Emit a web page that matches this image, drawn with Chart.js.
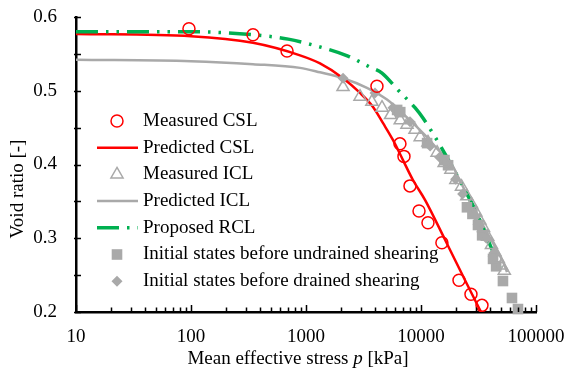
<!DOCTYPE html>
<html>
<head>
<meta charset="utf-8">
<script src="https://cdn.jsdelivr.net/npm/chart.js@4/dist/chart.umd.min.js"></script>
<style>
  html, body { margin: 0; padding: 0; background: #fff; }
  #wrap { width: 568px; height: 374px; }
</style>
</head>
<body>
<div id="wrap"><canvas id="chart"></canvas></div>
<script>
// Axis ticks
const xTicks = [10, 100, 1000, 10000, 100000];
const yTicks = [0.2, 0.3, 0.4, 0.5, 0.6];

// Measured CSL
const measCslP = [96, 346, 684, 4140, 6560, 7110, 8020, 9610, 11500, 15200, 21400, 27200, 33900];
const measCslE = [0.584, 0.576, 0.554, 0.506, 0.428, 0.411, 0.371, 0.337, 0.321, 0.294, 0.243, 0.224, 0.209];

// Predicted CSL
const predCslP = [10, 100, 346, 887, 1324, 2099, 2951, 3828, 4677, 5715, 6970, 8511, 10833, 16180, 24160, 33270];
const predCslE = [0.577, 0.574, 0.565, 0.548, 0.537, 0.517, 0.497, 0.478, 0.456, 0.433, 0.406, 0.379, 0.352, 0.298, 0.243, 0.200];

// Measured ICL
const measIclP = [2100, 2950, 3740, 4580, 5440, 6600, 7550, 8870, 9840, 11500, 13800, 15900, 18200, 20100,
  22500, 25000, 27500, 30000, 32500, 35000, 38000, 41000, 44000, 47000, 50000, 53000];
const measIclE = [0.505, 0.492, 0.485, 0.477, 0.467, 0.460, 0.454, 0.447, 0.437, 0.430, 0.416, 0.402, 0.393, 0.379,
  0.370, 0.357, 0.346, 0.335, 0.324, 0.314, 0.302, 0.291, 0.281, 0.272, 0.263, 0.256];

// Predicted ICL
const predIclP = [10, 100, 346, 887, 1324, 2099, 3388, 5058, 7551, 11270, 14060, 18200, 22300, 35300, 52700, 56000];
const predIclE = [0.542, 0.540, 0.536, 0.531, 0.525, 0.517, 0.504, 0.488, 0.464, 0.437, 0.420, 0.402, 0.375, 0.315, 0.265, 0.254];

// Proposed RCL
const rclP = [10, 100, 346, 700, 1150, 2317, 3607, 4580, 6310, 8870, 10400, 14900, 22300, 30700, 40600, 50600];
const rclE = [0.580, 0.580, 0.576, 0.570, 0.562, 0.547, 0.532, 0.524, 0.501, 0.477, 0.463, 0.424, 0.375, 0.333, 0.288, 0.254];

// Initial states before undrained shearing
const undrainedP = [6200, 6600, 11300, 16000, 17200, 25100, 28000, 31300, 34000, 42300, 45000, 51600, 61800, 69700];
const undrainedE = [0.474, 0.471, 0.429, 0.406, 0.399, 0.342, 0.333, 0.318, 0.304, 0.272, 0.262, 0.242, 0.219, 0.204];

// Initial states before drained shearing
const drainedP = [2100, 3980, 5700, 8020, 12000, 14500, 20000, 23000, 30000, 37000, 43000];
const drainedE = [0.517, 0.497, 0.477, 0.458, 0.425, 0.410, 0.380, 0.360, 0.330, 0.300, 0.280];

const RED = '#ff0000';
const GREY = '#a9a9a9';
const GREEN = '#00b050';
const RCL_DASH = [22, 8, 2.5, 8, 2.5, 8];

const pts = (xs, ys) => xs.map((x, i) => ({ x, y: ys[i] }));

Chart.defaults.font.family = '"Liberation Serif", "Times New Roman", serif';
Chart.defaults.color = '#000';

const datasets = [
  { label: 'Measured CSL', data: pts(measCslP, measCslE), showLine: false,
    pointStyle: 'circle', pointRadius: 6, pointBorderWidth: 1.5,
    pointBorderColor: RED, pointBackgroundColor: 'rgba(0,0,0,0)', order: 1, clip: false },
  { label: 'Predicted CSL', data: pts(predCslP, predCslE), showLine: true,
    borderColor: RED, borderWidth: 2.5, pointRadius: 0, cubicInterpolationMode: 'monotone', order: 6 },
  { label: 'Measured ICL', data: pts(measIclP, measIclE), showLine: false,
    pointStyle: 'triangle', pointRadius: 7, pointBorderWidth: 1.5,
    pointBorderColor: GREY, pointBackgroundColor: 'rgba(0,0,0,0)', order: 2, clip: false },
  { label: 'Predicted ICL', data: pts(predIclP, predIclE), showLine: true,
    borderColor: GREY, borderWidth: 2.5, pointRadius: 0, cubicInterpolationMode: 'monotone', order: 7 },
  { label: 'Proposed RCL', data: pts(rclP, rclE), showLine: true,
    borderColor: GREEN, borderWidth: 3.5, borderDash: RCL_DASH, pointRadius: 0,
    cubicInterpolationMode: 'monotone', order: 5 },
  { label: 'Initial states before undrained shearing', data: pts(undrainedP, undrainedE), showLine: false,
    pointStyle: 'rect', pointRadius: 7.5, pointBorderWidth: 0,
    pointBackgroundColor: GREY, pointBorderColor: GREY, order: 3, clip: false },
  { label: 'Initial states before drained shearing', data: pts(drainedP, drainedE), showLine: false,
    pointStyle: 'rectRot', pointRadius: 5.5, pointBorderWidth: 0,
    pointBackgroundColor: GREY, pointBorderColor: GREY, order: 4, clip: false }
];

// Legend, axis titles and inward tick marks
const decorations = {
  id: 'decorations',
  afterDraw(chart) {
    const ctx = chart.ctx;
    const xs = chart.scales.x, ys = chart.scales.y;
    const area = chart.chartArea;
    ctx.save();

    // tick marks
    ctx.strokeStyle = '#000';
    ctx.lineWidth = 1.5;
    ctx.beginPath();
    for (let d = 10; d < 100000; d *= 10) {
      for (let m = 1; m <= 10; m++) {
        const v = d * m;
        const px = Math.round(xs.getPixelForValue(v)) + 0.5;
        const len = (m === 1 || m === 10) ? 7 : 4.5;
        ctx.moveTo(px, area.bottom);
        ctx.lineTo(px, area.bottom - len);
      }
    }
    for (let v = 0.2; v <= 0.6001; v += 0.05) {
      const py = Math.round(ys.getPixelForValue(v)) + 0.5;
      ctx.moveTo(area.left - 2, py);
      ctx.lineTo(area.left + 5, py);
    }
    ctx.stroke();

    // axis titles
    ctx.fillStyle = '#000';
    ctx.font = '19px "Liberation Serif"';
    ctx.textBaseline = 'middle';
    const t1 = 'Mean effective stress ', t2 = 'p', t3 = ' [kPa]';
    const w1 = ctx.measureText(t1).width, w3 = ctx.measureText(t3).width;
    ctx.font = 'italic 19px "Liberation Serif"';
    const w2 = ctx.measureText(t2).width;
    let x0 = 298 - (w1 + w2 + w3) / 2;
    ctx.textAlign = 'left';
    ctx.font = '19px "Liberation Serif"';
    ctx.fillText(t1, x0, 359);
    ctx.font = 'italic 19px "Liberation Serif"';
    ctx.fillText(t2, x0 + w1, 359);
    ctx.font = '19px "Liberation Serif"';
    ctx.fillText(t3, x0 + w1 + w2, 359);

    ctx.save();
    ctx.translate(18, 189);
    ctx.rotate(-Math.PI / 2);
    ctx.textAlign = 'center';
    ctx.fillText('Void ratio [-]', 0, 0);
    ctx.restore();

    // legend
    const rowY = [121, 147.7, 174.4, 201, 227.8, 254.5, 281.2];
    const mx = 117;
    ctx.textAlign = 'left';
    ctx.font = '19px "Liberation Serif"';
    datasets.forEach((ds, i) => {
      const y = rowY[i];
      if (ds.showLine) {
        ctx.save();
        ctx.strokeStyle = ds.borderColor;
        ctx.lineWidth = ds.borderWidth;
        ctx.setLineDash(ds.borderDash || []);
        ctx.beginPath();
        ctx.moveTo(97, y);
        ctx.lineTo(138, y);
        ctx.stroke();
        ctx.restore();
      } else {
        ctx.save();
        ctx.lineWidth = ds.pointBorderWidth;
        ctx.strokeStyle = ds.pointBorderColor;
        ctx.fillStyle = ds.pointBackgroundColor;
        const r = ds.pointRadius;
        ctx.beginPath();
        if (ds.pointStyle === 'circle') {
          ctx.arc(mx, y, r, 0, Math.PI * 2);
          ctx.stroke();
        } else if (ds.pointStyle === 'triangle') {
          ctx.moveTo(mx, y - r);
          ctx.lineTo(mx + r * 0.866, y + r * 0.5);
          ctx.lineTo(mx - r * 0.866, y + r * 0.5);
          ctx.closePath();
          ctx.stroke();
        } else if (ds.pointStyle === 'rect') {
          const s = r * Math.SQRT1_2;
          ctx.rect(mx - s, y - s, 2 * s, 2 * s);
          ctx.fill();
        } else {
          ctx.moveTo(mx, y - r);
          ctx.lineTo(mx + r, y);
          ctx.lineTo(mx, y + r);
          ctx.lineTo(mx - r, y);
          ctx.closePath();
          ctx.fill();
        }
        ctx.restore();
      }
      ctx.fillStyle = '#000';
      ctx.fillText(ds.label, 143, y);
    });

    ctx.restore();
  }
};

new Chart(document.getElementById('chart'), {
  type: 'scatter',
  data: { datasets },
  options: {
    responsive: true,
    maintainAspectRatio: false,
    animation: false,
    layout: { padding: { top: 17, right: 32, left: 0, bottom: 0 } },
    plugins: { legend: { display: false }, tooltip: { enabled: false } },
    scales: {
      x: {
        type: 'logarithmic',
        min: 10,
        max: 100000,
        afterBuildTicks: (scale) => { scale.ticks = xTicks.map(v => ({ value: v })); },
        afterFit: (scale) => {
          scale.height = 62;
          scale.paddingLeft = 0;
          scale.paddingRight = 0;
        },
        grid: { display: false, drawTicks: false },
        border: { display: true, color: '#000', width: 2.5 },
        ticks: {
          autoSkip: false, maxRotation: 0, padding: 14,
          font: { size: 19 }, color: '#000',
          callback: (v) => String(v)
        }
      },
      y: {
        type: 'linear',
        min: 0.2,
        max: 0.6,
        afterBuildTicks: (scale) => { scale.ticks = yTicks.map(v => ({ value: v })); },
        afterFit: (scale) => {
          scale.width = 76;
          scale.paddingTop = 0;
          scale.paddingBottom = 0;
        },
        grid: { display: false, drawTicks: false },
        border: { display: true, color: '#000', width: 2.5 },
        ticks: {
          padding: 19,
          font: { size: 19 }, color: '#000',
          callback: (v) => v.toFixed(1)
        }
      }
    }
  },
  plugins: [decorations]
});
</script>
</body>
</html>
